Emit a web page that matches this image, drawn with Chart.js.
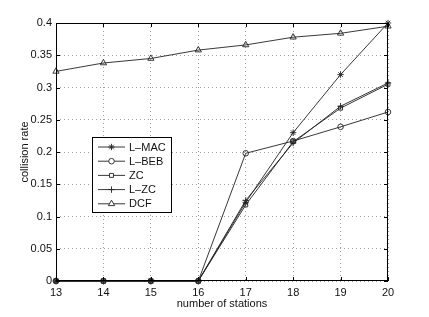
<!DOCTYPE html>
<html>
<head>
<meta charset="utf-8">
<script src="https://cdn.jsdelivr.net/npm/chart.js@4/dist/chart.umd.min.js"></script>
<style>
  html, body { margin: 0; padding: 0; background: #fff; }
  #wrap { width: 429px; height: 317px; }
</style>
</head>
<body>
<div id="wrap"><canvas id="collisionChart" width="429" height="317"></canvas></div>
<script>
const stations = ['13', '14', '15', '16', '17', '18', '19', '20'];
const lMac = [0, 0, 0, 0, 0.122, 0.230, 0.320, 0.400];
const lBeb = [0, 0, 0, 0, 0.198, 0.217, 0.239, 0.262];
const zc = [0, 0, 0, 0, 0.118, 0.216, 0.268, 0.305];
const lZc = [0, 0, 0, 0, 0.125, 0.214, 0.271, 0.307];
const dcf = [0.325, 0.338, 0.345, 0.358, 0.366, 0.378, 0.384, 0.395];

const FONT = 'Liberation Sans, Arial, Helvetica, sans-serif';
const INK = '#222';

function series(label, data, style, radius) {
    return {
        label: label,
        data: data,
        borderColor: INK,
        borderWidth: 0.9,
        pointStyle: style,
        pointRadius: radius,
        pointBorderColor: INK,
        pointBorderWidth: 0.9,
        pointBackgroundColor: 'rgba(0,0,0,0)',
        tension: 0,
        fill: false,
        clip: false
    };
}

// box, inward ticks and the legend in the middle of the plot
const matlabFrame = {
    id: 'matlabFrame',
    afterDatasetsDraw(chart) {
        const ctx = chart.ctx;
        const a = chart.chartArea;
        const xs = chart.scales.x, ys = chart.scales.y;
        ctx.save();
        ctx.strokeStyle = '#000';
        ctx.lineWidth = 1;
        ctx.strokeRect(a.left + 0.5, a.top + 0.5, a.right - a.left - 1, a.bottom - a.top - 1);
        ctx.beginPath();
        xs.ticks.forEach((t, i) => {
            const px = Math.round(xs.getPixelForTick(i)) + 0.5;
            ctx.moveTo(px, a.bottom); ctx.lineTo(px, a.bottom - 4);
            ctx.moveTo(px, a.top); ctx.lineTo(px, a.top + 4);
        });
        ys.ticks.forEach(t => {
            const py = Math.round(ys.getPixelForValue(t.value)) + 0.5;
            ctx.moveTo(a.left, py); ctx.lineTo(a.left + 4, py);
            ctx.moveTo(a.right, py); ctx.lineTo(a.right - 4, py);
        });
        ctx.stroke();

        // legend
        const bx = 92.5, by = 137.5, bw = 79, bh = 75;
        ctx.fillStyle = '#fff';
        ctx.fillRect(bx, by, bw, bh);
        ctx.strokeRect(bx, by, bw, bh);
        ctx.font = '11px ' + FONT;
        ctx.textBaseline = 'middle';
        chart.data.datasets.forEach((ds, i) => {
            const y = 147 + i * 14.2;
            ctx.strokeStyle = INK;
            ctx.lineWidth = 0.9;
            ctx.beginPath();
            ctx.moveTo(98, y); ctx.lineTo(125, y);
            ctx.stroke();
            ctx.fillStyle = '#fff';
            Chart.helpers.drawPoint(ctx, {
                pointStyle: ds.pointStyle,
                radius: ds.pointRadius,
                rotation: 0,
                borderWidth: 0.9
            }, 111.5, y);
            ctx.fillStyle = '#111';
            ctx.fillText(ds.label, 129, y + 0.5);
        });
        ctx.restore();
    }
};

new Chart(document.getElementById('collisionChart').getContext('2d'), {
    type: 'line',
    data: {
        labels: stations,
        datasets: [
            series('L\u2013MAC', lMac, 'star', 3.2),
            series('L\u2013BEB', lBeb, 'circle', 2.8),
            series('ZC', zc, 'rect', 2.8),
            series('L\u2013ZC', lZc, 'cross', 3.2),
            series('DCF', dcf, 'triangle', 3.6)
        ]
    },
    options: {
        responsive: false,
        animation: false,
        layout: { padding: { left: 0, top: 23, right: 41, bottom: 0 } },
        plugins: {
            legend: { display: false },
            tooltip: { enabled: false }
        },
        scales: {
            x: {
                offset: false,
                afterFit(scale) { scale.height = 36; },
                grid: { color: '#888', lineWidth: 0.8, drawTicks: false },
                border: { display: false, dash: [1, 3] },
                ticks: { color: '#111', font: { family: FONT, size: 11 }, padding: 5, maxRotation: 0 },
                title: { display: true, text: 'number of stations', color: '#111',
                         font: { family: FONT, size: 11 }, padding: { top: 0, bottom: 6 } }
            },
            y: {
                min: 0,
                max: 0.4,
                afterFit(scale) { scale.width = 56; },
                grid: { color: '#888', lineWidth: 0.8, drawTicks: false },
                border: { display: false, dash: [1, 3] },
                ticks: {
                    stepSize: 0.05,
                    color: '#111',
                    padding: 4,
                    font: { family: FONT, size: 11 },
                    callback: v => String(+v.toFixed(2))
                },
                title: { display: true, text: 'collision rate', color: '#111',
                         font: { family: FONT, size: 11 }, padding: { top: 18, bottom: 0 } }
            }
        }
    },
    plugins: [matlabFrame]
});
</script>
</body>
</html>
